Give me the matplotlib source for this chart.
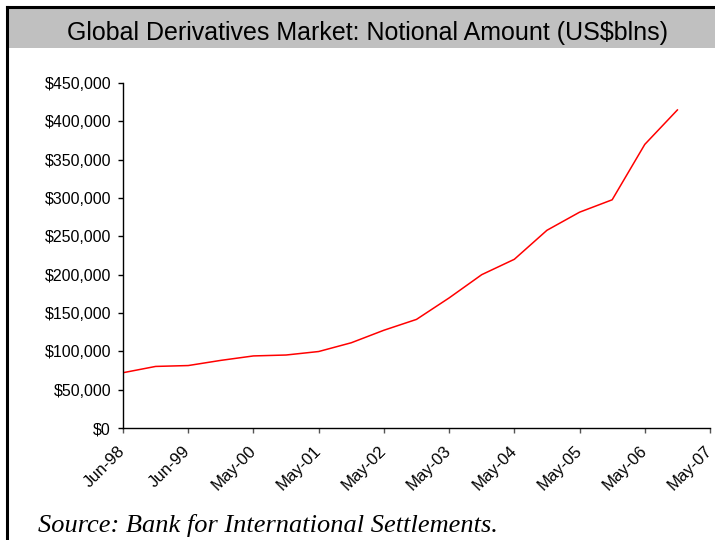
import matplotlib.pyplot as plt
import matplotlib.patches as mpatches
import matplotlib.lines as mlines
from matplotlib.ticker import FuncFormatter

# semiannual BIS notional amounts, US$ bln (Jun-98 .. Dec-06)
periods = ["Jun-98", "Dec-98", "Jun-99", "Dec-99", "Jun-00", "Dec-00",
           "Jun-01", "Dec-01", "Jun-02", "Dec-02", "Jun-03", "Dec-03",
           "Jun-04", "Dec-04", "Jun-05", "Dec-05", "Jun-06", "Dec-06"]
notional = [72107, 80309, 81458, 88202, 94008, 95199,
            99755, 111178, 127509, 141665, 169658, 200000,
            220058, 257894, 281493, 297670, 369906, 414845]
tick_labels = ["Jun-98", "Jun-99", "May-00", "May-01", "May-02",
               "May-03", "May-04", "May-05", "May-06", "May-07"]
yticks = list(range(0, 450001, 50000))

W, H = 715, 540
fig = plt.figure(figsize=(W / 100, H / 100), dpi=100)

# grey title band and the frame lines
fig.patches.append(mpatches.Rectangle((8 / W, 1 - 48 / H), 1 - 8 / W, 40 / H,
                                      transform=fig.transFigure,
                                      facecolor="#C0C0C0", edgecolor="none"))
fig.lines.append(mlines.Line2D([7 / W, 7 / W], [0, 1 - 7 / H], color="black",
                               linewidth=2.2, transform=fig.transFigure))
fig.lines.append(mlines.Line2D([7 / W, 1], [1 - 7 / H, 1 - 7 / H], color="black",
                               linewidth=2.2, transform=fig.transFigure))

fig.text(368 / W, 1 - 33 / H, "Global Derivatives Market: Notional Amount (US$blns)",
         ha="center", va="center", fontsize=18, family="Liberation Sans")

ax = fig.add_axes([123 / W, 1 - 428 / H, (710 - 123) / W, (428 - 83) / H])
ax.plot(range(len(notional)), notional, color="red", linewidth=1.1)

ax.set_xlim(0, 18)
ax.set_ylim(0, 450000)
ax.set_xticks(range(0, 19, 2))
ax.set_xticklabels(tick_labels, rotation=45, ha="right", va="center",
                   rotation_mode="anchor", fontsize=12, family="Liberation Sans")
ax.set_yticks(yticks)
ax.yaxis.set_major_formatter(FuncFormatter(lambda v, p: "${:,.0f}".format(v)))
for lbl in ax.get_yticklabels():
    lbl.set_fontsize(11.5)
    lbl.set_family("Liberation Sans")

for s in ["top", "right"]:
    ax.spines[s].set_visible(False)
ax.spines["left"].set_linewidth(1)
ax.spines["bottom"].set_linewidth(1)
ax.tick_params(axis="y", length=3.6, width=1, pad=5)
ax.tick_params(axis="x", length=3.6, width=1, pad=11, color="#555555")

fig.text(38 / W, 1 - 532 / H, "Source: Bank for International Settlements.",
         ha="left", va="baseline", fontsize=19, style="italic",
         family="Liberation Serif")

fig.savefig("out.png", dpi=100)
